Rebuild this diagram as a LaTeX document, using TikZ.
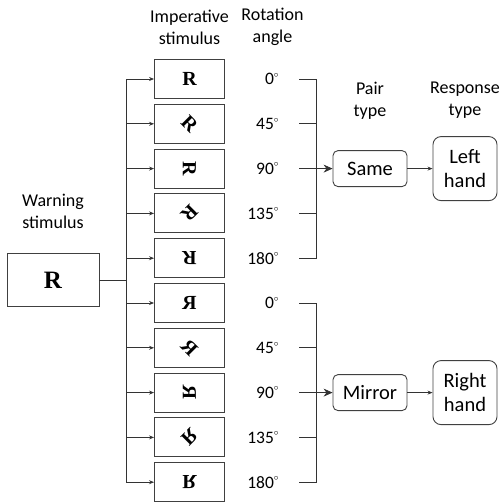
\documentclass[tikz,border=0pt]{standalone}
\usepackage{fontspec}
\usepackage{graphicx}
\setmainfont{Carlito}
\newfontfamily\letterfont{Liberation Serif}
\usetikzlibrary{positioning,arrows.meta}

\newcommand{\letR}[1]{{\letterfont\bfseries\fontsize{#1}{#1}\selectfont R}}
\newcommand{\stimR}[1]{\rotatebox[origin=c]{#1}{\letR{20}}}
\newcommand{\mirrR}[1]{\rotatebox[origin=c]{#1}{\reflectbox{\letR{20}}}}
\newcommand{\degr}{\raisebox{1pt}{$^{\scriptscriptstyle\circ}$}}

\tikzset{
  stim/.style={draw=black!75, line width=0.9pt, minimum width=70pt, minimum height=39pt, inner sep=0pt},
  warn/.style={stim, minimum width=92pt, minimum height=53pt},
  pair/.style={draw=black!75, line width=0.9pt, rounded corners=5pt, minimum width=74pt,
    minimum height=36pt, inner sep=0pt, font=\fontsize{20.5}{24}\selectfont},
  resp/.style={pair, rounded corners=8pt, minimum width=64pt, minimum height=64pt, align=center},
  head/.style={align=center, font=\fontsize{18}{22}\selectfont},
  ang/.style={text width=40pt, align=right, inner sep=0pt, font=\fontsize{17.5}{20}\selectfont},
  link/.style={draw=black!80, line width=0.8pt},
  into/.style={link, -{Stealth[length=5pt,width=4pt]}},
  feed/.style={link, -{Stealth[length=9pt,width=8pt]}},
}

\begin{document}
\begin{tikzpicture}[x=1pt, y=-1pt, node distance=44.8pt, on grid]
  \useasboundingbox (0,0) rectangle (502,503);
  % imperative stimuli
  \node[stim] (s1) at (189.5,79) {\stimR{0}};
  \node[stim] (s2) [below=of s1] {\stimR{-45}};
  \node[stim] (s3) [below=of s2] {\stimR{-90}};
  \node[stim] (s4) [below=of s3] {\stimR{-135}};
  \node[stim] (s5) [below=of s4] {\stimR{-180}};
  \node[stim] (s6) [below=of s5] {\mirrR{0}};
  \node[stim] (s7) [below=of s6] {\mirrR{-45}};
  \node[stim] (s8) [below=of s7] {\mirrR{-90}};
  \node[stim] (s9) [below=of s8] {\mirrR{-135}};
  \node[stim] (s10) [below=of s9] {\mirrR{-180}};
  % rotation angles
  \node[ang] (a1) [right=69.5pt of s1] {0\degr};
  \node[ang] (a2) [right=69.5pt of s2] {45\degr};
  \node[ang] (a3) [right=69.5pt of s3] {90\degr};
  \node[ang] (a4) [right=69.5pt of s4] {135\degr};
  \node[ang] (a5) [right=69.5pt of s5] {180\degr};
  \node[ang] (a6) [right=69.5pt of s6] {0\degr};
  \node[ang] (a7) [right=69.5pt of s7] {45\degr};
  \node[ang] (a8) [right=69.5pt of s8] {90\degr};
  \node[ang] (a9) [right=69.5pt of s9] {135\degr};
  \node[ang] (a10) [right=69.5pt of s10] {180\degr};
  % warning stimulus
  \node[warn] (warn) at (53,280) {\letR{25}};
  \node[head] (warnlab) [above=69pt of warn] {Warning\\stimulus};
  % pair and response types
  \node[pair] (same) [right=180.5pt of s3] {Same};
  \node[resp] (left) [right=95pt of same] {Left\\hand};
  \node[pair] (mirror) [right=180.5pt of s8] {Mirror};
  \node[resp] (right) [right=95pt of mirror] {Right\\hand};
  % headers
  \node[head] (imp) [above=52pt of s1] {Imperative\\stimulus};
  \node[head] (rot) [right=83pt of imp] {Rotation\\angle};
  \node[head] (pairlab) [above=68pt of same] {Pair\\type};
  \node[head] (resplab) [above=68pt of left] {Response\\type};
  % connectors
  \coordinate (trunk) at (126,0);
  \coordinate (br) at (316,0);
  \path[link] (warn) -- (warn -| trunk);
  \path[link] (s1.west -| trunk) -- (s10.west -| trunk);
  \path[into] (s1.west -| trunk) -- (s1);
  \path[into] (s2.west -| trunk) -- (s2);
  \path[into] (s3.west -| trunk) -- (s3);
  \path[into] (s4.west -| trunk) -- (s4);
  \path[into] (s5.west -| trunk) -- (s5);
  \path[into] (s6.west -| trunk) -- (s6);
  \path[into] (s7.west -| trunk) -- (s7);
  \path[into] (s8.west -| trunk) -- (s8);
  \path[into] (s9.west -| trunk) -- (s9);
  \path[into] (s10.west -| trunk) -- (s10);
  \path[link] ([xshift=20pt]a1.east) -| (a5.east -| br) -- ([xshift=20pt]a5.east);
  \path[link] ([xshift=20pt]a2.east) -- (a2.east -| br);
  \path[link] ([xshift=20pt]a4.east) -- (a4.east -| br);
  \path[feed] ([xshift=20pt]a3.east) -- (same);
  \path[link] ([xshift=20pt]a6.east) -| (a10.east -| br) -- ([xshift=20pt]a10.east);
  \path[link] ([xshift=20pt]a7.east) -- (a7.east -| br);
  \path[link] ([xshift=20pt]a9.east) -- (a9.east -| br);
  \path[feed] ([xshift=20pt]a8.east) -- (mirror);
  \path[into] (same) -- (left);
  \path[into] (mirror) -- (right);
\end{tikzpicture}
\end{document}
